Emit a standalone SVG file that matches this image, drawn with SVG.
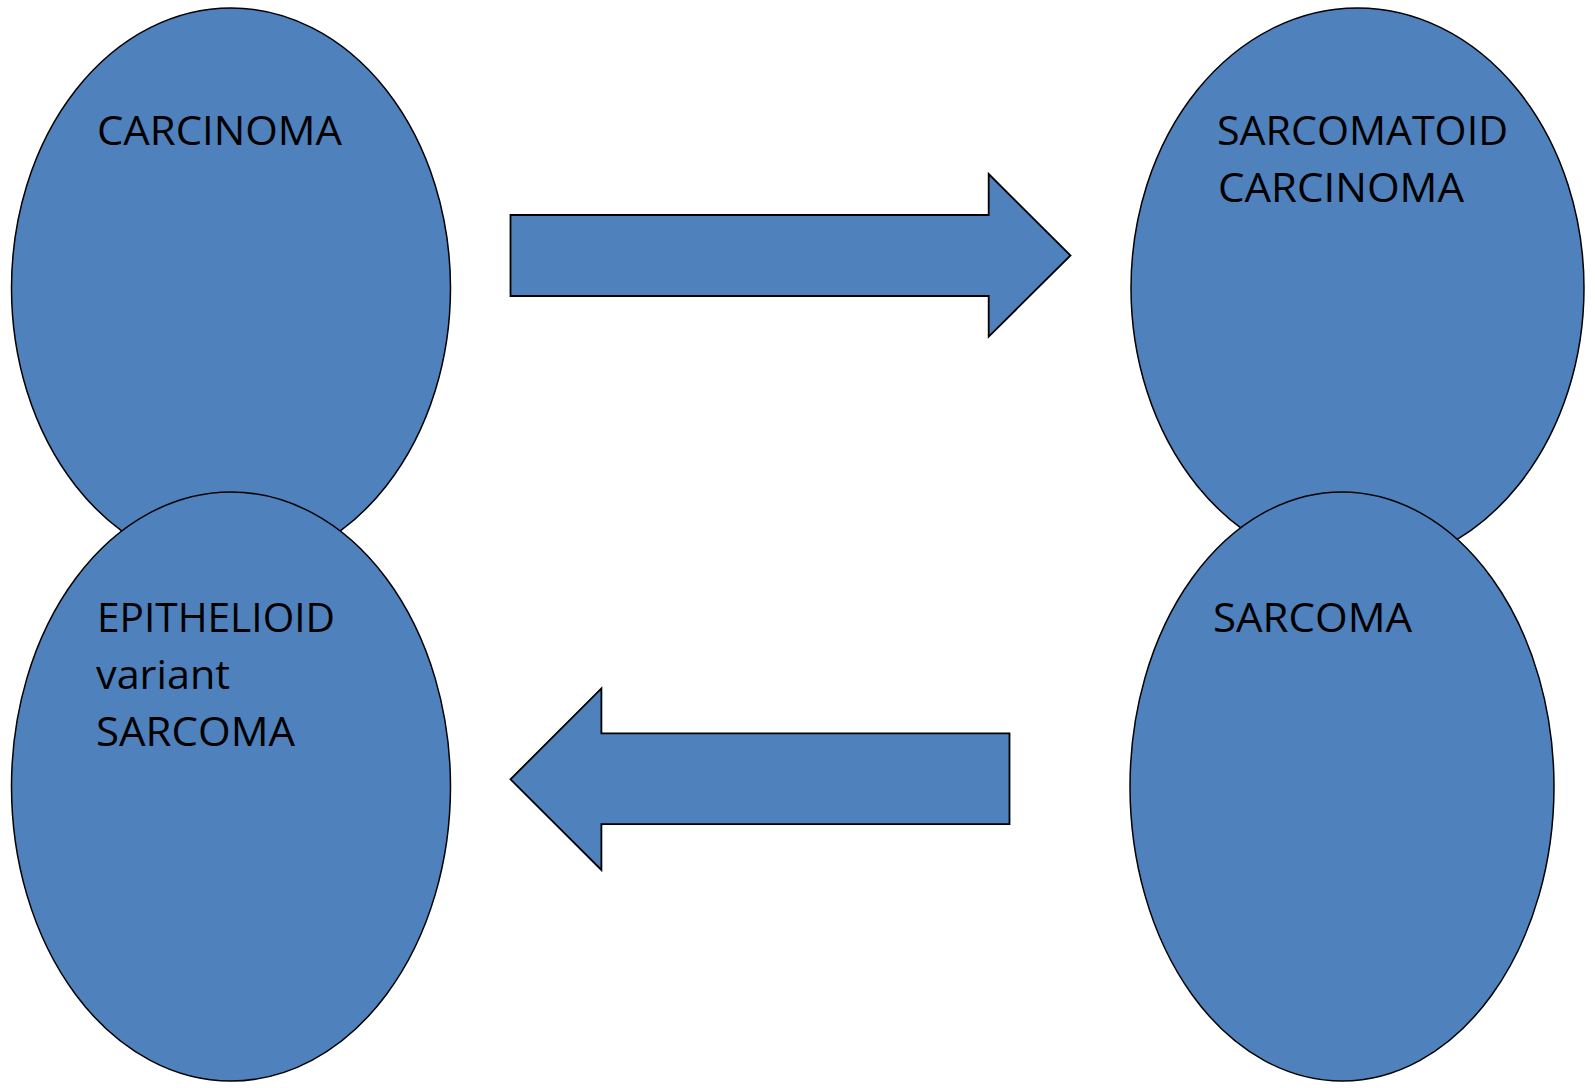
<svg xmlns="http://www.w3.org/2000/svg" width="1595" height="1088" viewBox="0 0 1595 1088">
<style>
.node{fill:#4F81BD;stroke:#000;stroke-width:1.5}
.arrow{fill:#4F81BD;stroke:#000;stroke-width:1.8;stroke-linejoin:miter}
.lbl{font-family:"Open Sans","Noto Sans","Liberation Sans",sans-serif;font-size:40px;fill:#000}
</style>
<rect width="1595" height="1088" fill="#fff"/>
<g id="carcinoma">
<ellipse class="node" cx="231" cy="288" rx="219.5" ry="280"/>
<text class="lbl" x="97" y="145" textLength="245" lengthAdjust="spacingAndGlyphs">CARCINOMA</text>
</g>
<g id="sarcomatoid-carcinoma">
<ellipse class="node" cx="1357.5" cy="288" rx="226.5" ry="280"/>
<text class="lbl" x="1217" y="145" textLength="291" lengthAdjust="spacingAndGlyphs">SARCOMATOID</text>
<text class="lbl" x="1218" y="202" textLength="246" lengthAdjust="spacingAndGlyphs">CARCINOMA</text>
</g>
<g id="epithelioid-sarcoma">
<ellipse class="node" cx="231" cy="786.5" rx="219.5" ry="294.5"/>
<text class="lbl" x="97" y="632" textLength="238" lengthAdjust="spacingAndGlyphs">EPITHELIOID</text>
<text class="lbl" x="96" y="689" textLength="134" lengthAdjust="spacingAndGlyphs">variant</text>
<text class="lbl" x="96" y="746" textLength="199" lengthAdjust="spacingAndGlyphs">SARCOMA</text>
</g>
<g id="sarcoma">
<ellipse class="node" cx="1342" cy="786.5" rx="212" ry="294.5"/>
<text class="lbl" x="1213" y="632" textLength="199" lengthAdjust="spacingAndGlyphs">SARCOMA</text>
</g>
<g id="connectors">
<polygon class="arrow" points="510.5,215 988.7,215 988.7,174 1070.5,255.5 988.7,336.7 988.7,296 510.5,296"/>
<polygon class="arrow" points="1009.5,733.4 601.4,733.4 601.4,688.4 510.5,779.3 601.4,870 601.4,824.2 1009.5,824.2"/>
</g>
</svg>
